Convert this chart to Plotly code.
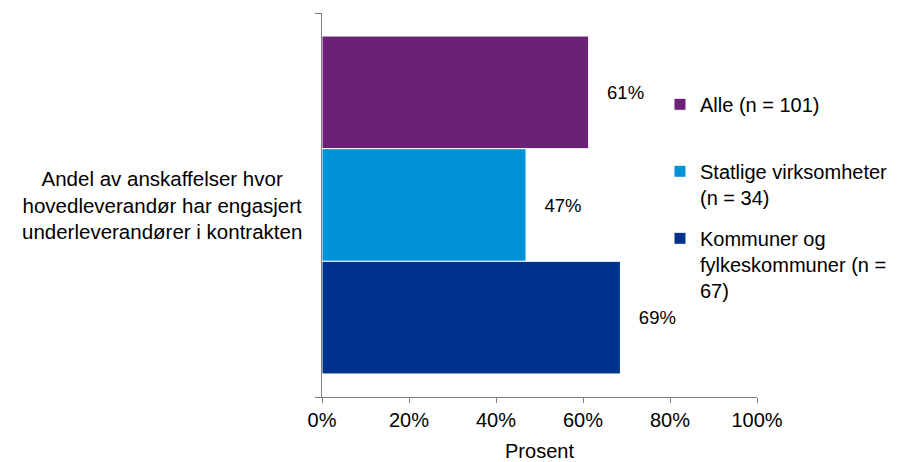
import plotly.graph_objects as go

# data
category = ["Andel av anskaffelser hvor<br>hovedleverandør har engasjert<br>underleverandører i kontrakten"]
series_names = [
    "Alle (n = 101)<br> ",
    "Statlige virksomheter<br>(n = 34)",
    "Kommuner og<br>fylkeskommuner (n =<br>67)",
]
series_values = [0.613, 0.469, 0.686]
series_colors = ["#6C2077", "#0092D9", "#00338E"]

fig = go.Figure()

for i, name in enumerate(series_names):
    fig.add_trace(
        go.Bar(
            y=category,
            x=[series_values[i]],
            orientation="h",
            name=name,
            legendgroup=str(i),
            marker=dict(color=series_colors[i], line=dict(color="white", width=1)),
            text=["\u00a0\u00a0\u00a0" + f"{series_values[i]:.0%}"],
            textposition="outside",
            textfont=dict(size=18.5, color="black"),
            cliponaxis=False,
        )
    )

fig.add_annotation(
    x=-0.367,
    y=category[0],
    xref="paper",
    yref="y",
    text=category[0],
    showarrow=False,
    align="center",
    xanchor="center",
    font=dict(size=20.5, color="black"),
)

fig.update_layout(
    width=899,
    height=462,
    margin=dict(l=322, r=142, t=13, b=65, autoexpand=False),
    paper_bgcolor="white",
    plot_bgcolor="white",
    font=dict(family="Liberation Sans, Arial, sans-serif", size=20, color="black"),
    barmode="group",
    bargap=0.12,
    bargroupgap=0,
    legend=dict(
        x=0.777,
        y=0.813,
        xanchor="left",
        yanchor="top",
        valign="top",
        tracegroupgap=12,
        font=dict(size=20),
        bgcolor="rgba(0,0,0,0)",
    ),
    xaxis=dict(
        range=[0, 1],
        dtick=0.2,
        tickformat=".0%",
        showgrid=False,
        zeroline=False,
        showline=True,
        linecolor="#7f7f7f",
        linewidth=1,
        ticks="outside",
        ticklen=5,
        tickcolor="#7f7f7f",
        tickfont=dict(size=20),
        automargin=False,
        title=dict(text="Prosent", standoff=14, font=dict(size=20)),
    ),
    yaxis=dict(
        autorange="reversed",
        showticklabels=False,
        showgrid=False,
        showline=True,
        linecolor="#7f7f7f",
        linewidth=1,
        ticks="outside",
        ticklen=6,
        tickcolor="#7f7f7f",
        tickson="boundaries",
        automargin=False,
    ),
)

fig.write_html(
    "out.html",
    config={"displayModeBar": False},
    post_script="document.body.style.margin='0';",
)
